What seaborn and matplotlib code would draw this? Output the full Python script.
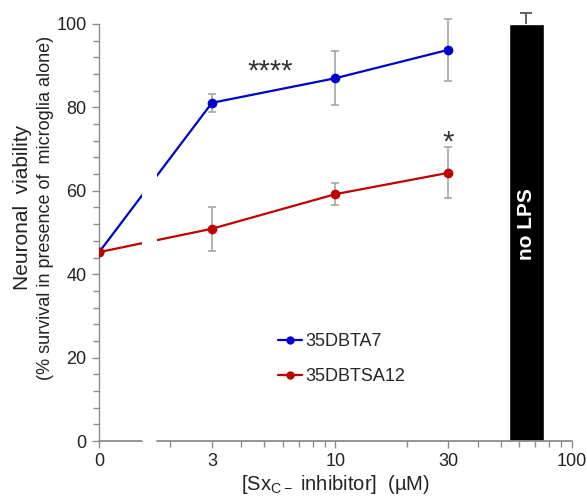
import numpy as np
import pandas as pd
import matplotlib
matplotlib.use("Agg")
import matplotlib.pyplot as plt
from matplotlib.patches import Rectangle
import seaborn as sns

# data
conc = [0, 3, 10, 30]
dbta7 = [45.3, 81.1, 87.0, 93.8]
dbta7_err = [0.0, 2.2, 6.5, 7.4]
dbtsa12 = [45.3, 50.9, 59.2, 64.3]
dbtsa12_err = [0.0, 5.3, 2.7, 6.1]
nolps_left = 54.4
nolps_right = 76.0
nolps_value = 100.0
nolps_err = 2.6

x_ticks = [0, 3, 10, 30, 100]
x_minor = [2, 4, 5, 6, 7, 8, 9, 20, 40, 50, 60, 70, 80, 90]
y_ticks = [0, 20, 40, 60, 80, 100]

blue = '#0000CC'
red = '#C00000'
grey = '#8C8C8C'

df = pd.DataFrame({
    'conc': conc * 2,
    'viab': dbta7 + dbtsa12,
    'err': dbta7_err + dbtsa12_err,
    'compound': ['35DBTA7'] * 4 + ['35DBTSA12'] * 4,
})

sns.set_style('ticks')
plt.rcParams['font.family'] = ['Liberation Sans', 'DejaVu Sans']
plt.rcParams['mathtext.fontset'] = 'custom'
plt.rcParams['mathtext.rm'] = 'Liberation Sans'

fig = plt.figure(figsize=(5.87, 5.0), dpi=100)
ax = fig.add_axes([0.169, 0.118, 0.805, 0.834])

# 0 sits where 1 would be on the log axis
def fwd(x):
    x = np.asarray(x, dtype=float)
    return np.log10(np.maximum(x, 1.0))

def inv(y):
    return 10 ** np.asarray(y, dtype=float)

ax.set_xscale('function', functions=(fwd, inv))

# error bars first so markers sit on top
for name, col in [('35DBTA7', blue), ('35DBTSA12', red)]:
    sub = df[(df['compound'] == name) & (df['err'] > 0)]
    ax.errorbar(sub['conc'], sub['viab'], yerr=sub['err'], fmt='none',
                ecolor='#A6A6A6', elinewidth=1.2, capsize=3, capthick=1.2,
                zorder=2, clip_on=False)

sns.lineplot(data=df, x='conc', y='viab', hue='compound',
             palette={'35DBTA7': blue, '35DBTSA12': red},
             marker='o', markersize=7, markeredgewidth=0, linewidth=1.6,
             ax=ax, zorder=4, legend=True)

# no LPS bar
ax.bar([nolps_left], [nolps_value], width=nolps_right - nolps_left,
       align='edge', color='black', zorder=5)
xc = np.sqrt(nolps_left * nolps_right)
eb = ax.errorbar([xc], [nolps_value], yerr=[[0], [nolps_err]], fmt='none',
                 ecolor='#555555', elinewidth=1.3, capsize=4, capthick=1.3,
                 clip_on=False, zorder=5)
eb[1][0].set_visible(False)  # only the upper cap
ax.text(xc, 52, 'no LPS', rotation=90, color='white', fontsize=15,
        fontweight='bold', ha='center', va='center', zorder=6)

# broken x axis
b0, b1 = 0.091, 0.123
ax.add_patch(Rectangle((b0, 0.004), b1 - b0, 1.0, transform=ax.transAxes,
                       facecolor='white', edgecolor='none', zorder=4.5))
ax.spines['bottom'].set_visible(False)
ax.spines['top'].set_visible(False)
ax.spines['right'].set_visible(False)
ax.spines['left'].set_color(grey)
ax.spines['left'].set_linewidth(1.0)
for seg in [(0, b0), (b1, 1.0)]:
    ax.plot(seg, [0, 0], color=grey, lw=1.3, transform=ax.transAxes,
            clip_on=False, zorder=6)

ax.set_xlim(0, 100)
ax.set_ylim(0, 100)
ax.set_xticks(x_ticks)
ax.set_xticklabels([str(t) for t in x_ticks])
ax.set_xticks(x_minor, minor=True)
ax.set_yticks(y_ticks)
ax.set_yticks(np.arange(0, 101, 4), minor=True)
ax.tick_params(axis='both', which='major', labelsize=13, color=grey,
               labelcolor='#222222', width=1.0, length=5, pad=4)
ax.tick_params(axis='both', which='minor', color=grey, width=1.0, length=4)

ax.set_xlabel('[Sx$_{\\mathregular{C-}}$ inhibitor]  (µM)', fontsize=14.5,
              color='#222222', labelpad=2)
ax.set_ylabel('')
fig.text(0.038, 0.585, 'Neuronal  viability', rotation=90, fontsize=15,
         ha='center', va='center', color='#222222')
fig.text(0.077, 0.585, '(% survival in presence of  microglia alone)',
         rotation=90, fontsize=13, ha='center', va='center', color='#222222')

# significance marks
ax.text(5.3, 88.5, '****', fontsize=21, ha='center', va='center', color='#333333')
ax.text(30, 71.5, '*', fontsize=21, ha='center', va='center', color='#333333')

leg = ax.legend(loc='upper left', bbox_to_anchor=(0.345, 0.297), frameon=False,
                fontsize=13, handlelength=1.3, handletextpad=0.2,
                labelspacing=1.0)
for h in leg.legend_handles:
    h.set_markersize(6)

fig.savefig('out.png', dpi=100)
